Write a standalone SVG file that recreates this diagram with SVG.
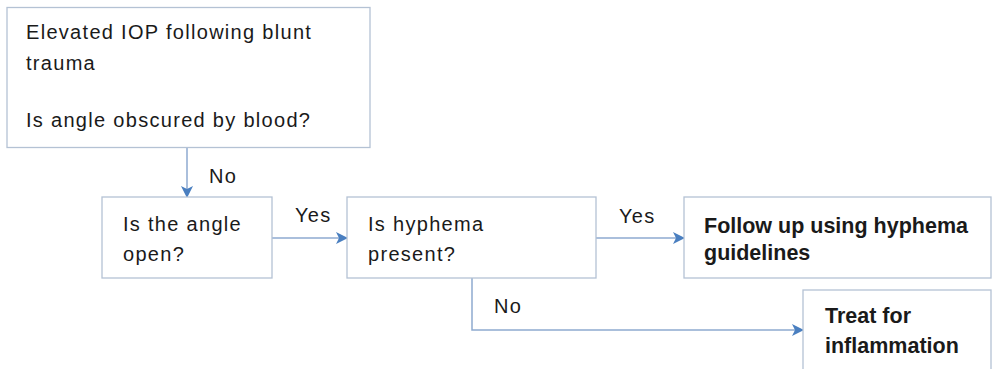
<svg xmlns="http://www.w3.org/2000/svg" width="993" height="369" viewBox="0 0 993 369">
<defs>
<style>
.box{fill:#ffffff;stroke:#b4c2d4;stroke-width:1.3}
.t{font-family:"Liberation Sans",Arial,sans-serif;font-size:20px;letter-spacing:1.3px;fill:#1a1a1a}
.b{font-weight:bold;font-size:21.5px;letter-spacing:0}
.c{fill:none;stroke:#8eaad0;stroke-width:1.5}
</style>
<marker id="ah" viewBox="0 0 12 12" refX="11" refY="6" markerWidth="12" markerHeight="12" markerUnits="userSpaceOnUse" orient="auto">
<path d="M0,0 L12,6 L0,12 L3,6 Z" fill="#4a7fc0"/>
</marker>
</defs>
<rect width="993" height="369" fill="#ffffff"/>
<g id="connectors">
<path class="c" d="M187,147 V197" marker-end="url(#ah)"/>
<path class="c" d="M272,238 H347" marker-end="url(#ah)"/>
<path class="c" d="M596,238 H684" marker-end="url(#ah)"/>
<path class="c" d="M472,278 V330 H803" marker-end="url(#ah)"/>
<text class="t" x="209" y="183">No</text>
<text class="t" x="295" y="222">Yes</text>
<text class="t" x="619" y="223">Yes</text>
<text class="t" x="494" y="313">No</text>
</g>
<g id="n1">
<rect class="box" x="7" y="7.5" width="363" height="140"/>
<text class="t" x="26" y="39">Elevated IOP following blunt</text>
<text class="t" x="26" y="70">trauma</text>
<text class="t" x="26" y="127">Is angle obscured by blood?</text>
</g>
<g id="n2">
<rect class="box" x="102" y="197" width="170" height="81"/>
<text class="t" x="123" y="231">Is the angle</text>
<text class="t" x="123" y="261">open?</text>
</g>
<g id="n3">
<rect class="box" x="347" y="197" width="249" height="81"/>
<text class="t" x="368" y="231">Is hyphema</text>
<text class="t" x="368" y="261">present?</text>
</g>
<g id="n4">
<rect class="box" x="684" y="197" width="307" height="81"/>
<text class="t b" x="704" y="233">Follow up using hyphema</text>
<text class="t b" x="704" y="260">guidelines</text>
</g>
<g id="n5">
<rect class="box" x="803" y="290" width="188" height="90"/>
<text class="t b" x="825" y="323">Treat for</text>
<text class="t b" x="825" y="353">inflammation</text>
</g>
</svg>
